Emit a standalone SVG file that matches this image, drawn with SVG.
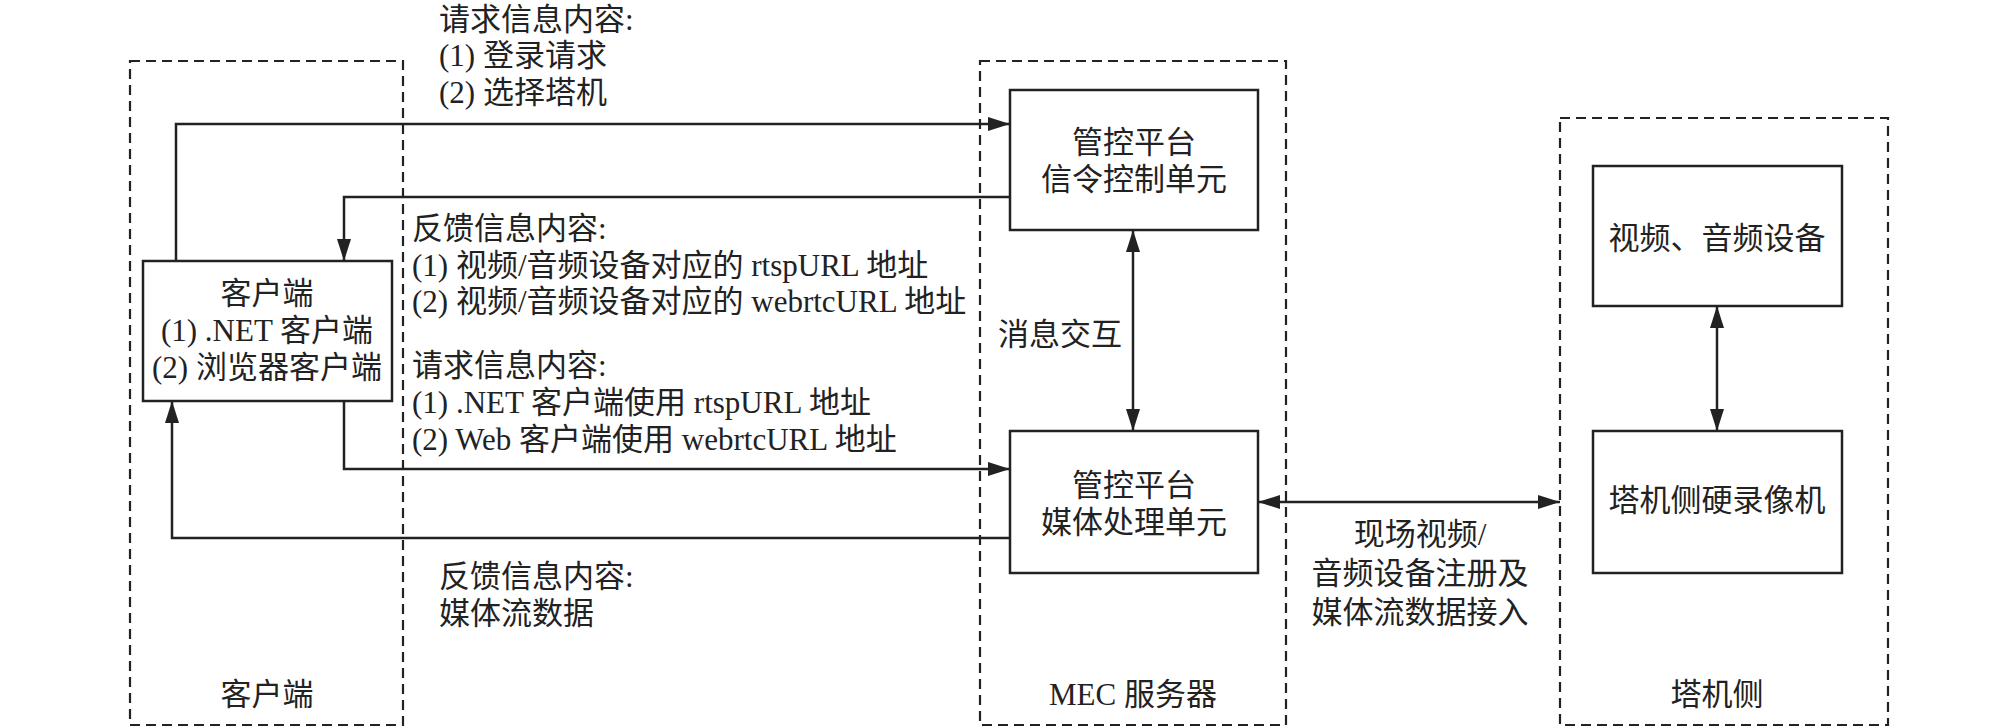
<svg xmlns="http://www.w3.org/2000/svg" width="2008" height="727" viewBox="0 0 2008 727">
<style>
.bg{fill:#fff}
.zone{fill:none;stroke:#222;stroke-width:2.2;stroke-dasharray:10 6}
.box{fill:#fff;stroke:#222;stroke-width:2.5}
.ln{fill:none;stroke:#222;stroke-width:2.5}
text{font-family:"Liberation Serif","Noto Sans CJK SC",serif;font-size:31px;fill:#222}
.c{text-anchor:middle}
</style>
<defs>
<marker id="ah" markerUnits="userSpaceOnUse" markerWidth="22" markerHeight="14" refX="22" refY="7" orient="auto-start-reverse" viewBox="0 0 22 14">
<path d="M0 0 L22 7 L0 14 Z" fill="#222"/>
</marker>
</defs>
<rect class="bg" x="0" y="0" width="2008" height="727"/>
<g id="zone-client">
<rect class="zone" x="130" y="61" width="273" height="664"/>
<text class="c" x="267" y="705">客户端</text>
</g>
<g id="zone-mec">
<rect class="zone" x="980" y="61" width="306" height="664"/>
<text class="c" x="1133" y="705">MEC 服务器</text>
</g>
<g id="zone-tower">
<rect class="zone" x="1560" y="118" width="328" height="607"/>
<text class="c" x="1717" y="705">塔机侧</text>
</g>
<g id="client">
<rect class="box" x="143" y="261" width="249" height="140"/>
<text class="c" x="267" y="304">客户端</text>
<text class="c" x="267" y="341">(1) .NET 客户端</text>
<text class="c" x="267" y="378">(2) 浏览器客户端</text>
</g>
<g id="signal">
<rect class="box" x="1010" y="90" width="248" height="140"/>
<text class="c" x="1134" y="153">管控平台</text>
<text class="c" x="1134" y="190">信令控制单元</text>
</g>
<g id="media">
<rect class="box" x="1010" y="431" width="248" height="142"/>
<text class="c" x="1134" y="496">管控平台</text>
<text class="c" x="1134" y="533">媒体处理单元</text>
</g>
<g id="device">
<rect class="box" x="1593" y="166" width="249" height="140"/>
<text class="c" x="1717" y="249">视频、音频设备</text>
</g>
<g id="recorder">
<rect class="box" x="1593" y="431" width="249" height="142"/>
<text class="c" x="1717" y="511">塔机侧硬录像机</text>
</g>
<g id="connectors">
<path class="ln" d="M176 261 V124 H1010" marker-end="url(#ah)"/>
<path class="ln" d="M1010 197 H344 V261" marker-end="url(#ah)"/>
<path class="ln" d="M344 401 V469 H1010" marker-end="url(#ah)"/>
<path class="ln" d="M1010 538 H172 V401" marker-end="url(#ah)"/>
<path class="ln" d="M1133 230 V431" marker-start="url(#ah)" marker-end="url(#ah)"/>
<path class="ln" d="M1258 502 H1560" marker-start="url(#ah)" marker-end="url(#ah)"/>
<path class="ln" d="M1717 306 V431" marker-start="url(#ah)" marker-end="url(#ah)"/>
</g>
<g id="labels">
<text x="439" y="30">请求信息内容:</text>
<text x="439" y="66">(1) 登录请求</text>
<text x="439" y="103">(2) 选择塔机</text>
<text x="412" y="239">反馈信息内容:</text>
<text x="412" y="276">(1) 视频/音频设备对应的 rtspURL 地址</text>
<text x="412" y="312">(2) 视频/音频设备对应的 webrtcURL 地址</text>
<text x="412" y="376">请求信息内容:</text>
<text x="412" y="413">(1) .NET 客户端使用 rtspURL 地址</text>
<text x="412" y="450">(2) Web 客户端使用 webrtcURL 地址</text>
<text x="439" y="587">反馈信息内容:</text>
<text x="439" y="624">媒体流数据</text>
<text x="998" y="345">消息交互</text>
<text class="c" x="1420" y="545">现场视频/</text>
<text class="c" x="1420" y="584">音频设备注册及</text>
<text class="c" x="1420" y="623">媒体流数据接入</text>
</g>
</svg>
